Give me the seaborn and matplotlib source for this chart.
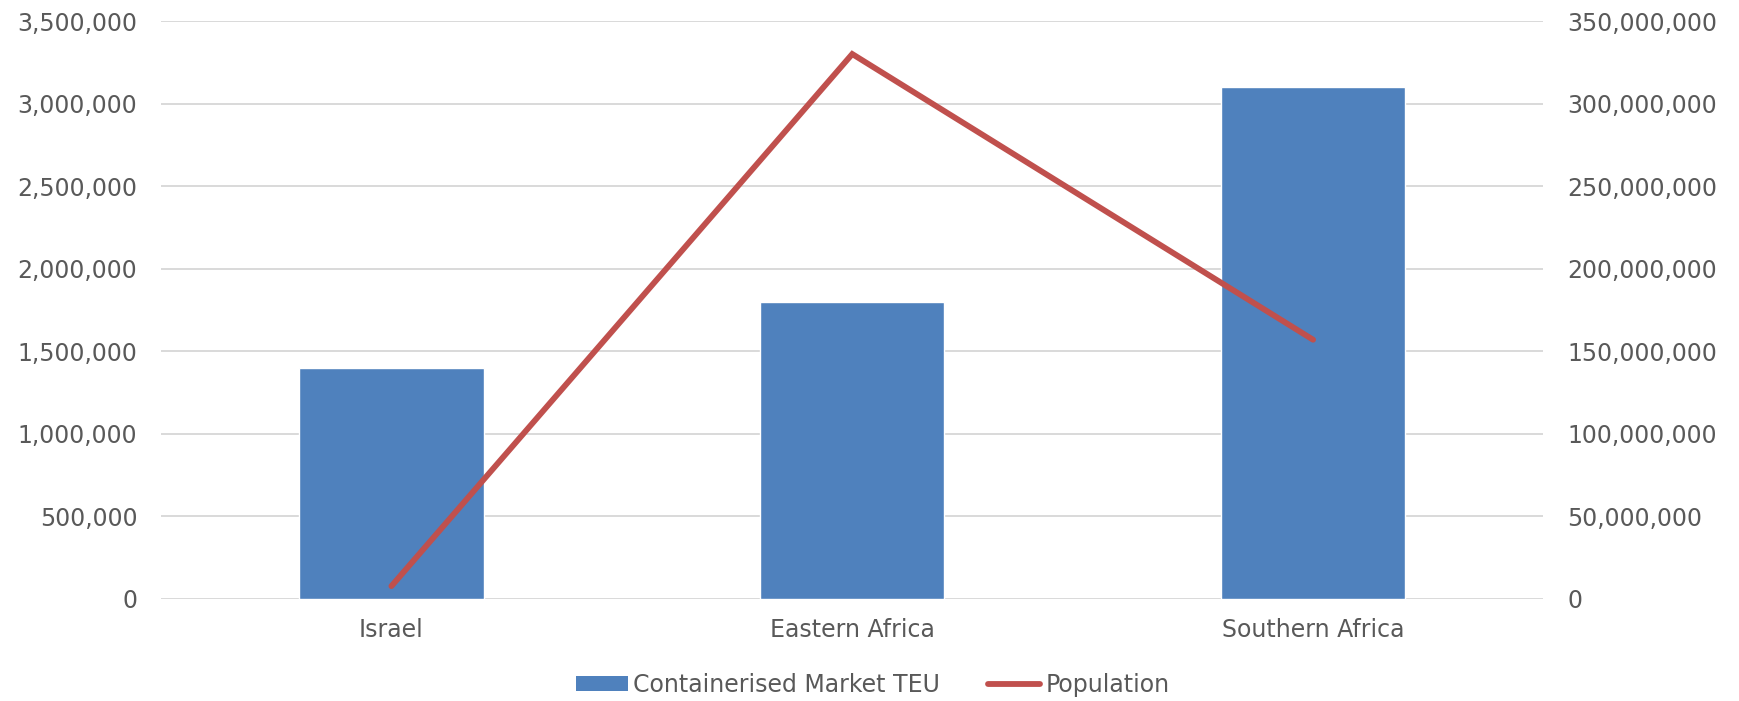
import matplotlib
matplotlib.use("Agg")
import matplotlib.pyplot as plt
import seaborn as sns
import pandas as pd
from matplotlib.ticker import FuncFormatter, MultipleLocator
from matplotlib.patches import Patch
from matplotlib.lines import Line2D

# ---- data ----
regions = ["Israel", "Eastern Africa", "Southern Africa"]
teu = [1_400_000, 1_800_000, 3_100_000]
population = [7_800_000, 330_000_000, 157_000_000]
left_ticks_max = 3_500_000
right_ticks_max = 350_000_000
series_names = ["Containerised Market TEU", "Population"]

df = pd.DataFrame({"Region": regions, "TEU": teu, "Population": population})

sns.set_theme(style="white")
plt.rcParams["font.family"] = ["DejaVu Sans"]

text_color = "#595959"
bar_color = "#4F81BD"
line_color = "#C0504D"
grid_color = "#D9D9D9"
fs = 17
lw = 4.2

W, H = 1740, 701
fig = plt.figure(figsize=(W / 100, H / 100), dpi=100)
ax = fig.add_axes([161 / W, 1 - 599 / H, (1543.5 - 161) / W, (599 - 21) / H])

sns.barplot(data=df, x="Region", y="TEU", color=bar_color, width=0.4,
            saturation=1, ax=ax, zorder=2)
ax2 = ax.twinx()
sns.lineplot(data=df, x="Region", y="Population", sort=False, color=line_color,
             linewidth=lw, ax=ax2, solid_capstyle="round", solid_joinstyle="miter")

fmt = FuncFormatter(lambda v, p: f"{v:,.0f}")
ax.set_ylim(0, left_ticks_max)
ax.yaxis.set_major_locator(MultipleLocator(left_ticks_max / 7))
ax.yaxis.set_major_formatter(fmt)
ax2.set_ylim(0, right_ticks_max)
ax2.yaxis.set_major_locator(MultipleLocator(right_ticks_max / 7))
ax2.yaxis.set_major_formatter(fmt)
ax.set_xlim(-0.5, len(regions) - 0.5)

ax.yaxis.grid(True, color=grid_color, linewidth=1.4)
ax.xaxis.grid(False)
ax2.grid(False)
ax.set_axisbelow(True)

for a in (ax, ax2):
    for s in a.spines.values():
        s.set_visible(False)
    a.set_xlabel("")
    a.set_ylabel("")

ax.tick_params(axis="y", length=0, labelsize=fs, labelcolor=text_color, pad=17)
ax2.tick_params(axis="y", length=0, labelsize=fs, labelcolor=text_color, pad=17)
ax.tick_params(axis="x", length=0, labelsize=fs, labelcolor=text_color, pad=14)

handles = [Patch(facecolor=bar_color, edgecolor="none"),
           Line2D([0], [0], color=line_color, linewidth=lw, solid_capstyle="round")]
fig.legend(handles=handles, labels=series_names, loc="center",
           bbox_to_anchor=(0.5015, 1 - 685 / H), ncol=2, frameon=False,
           fontsize=fs, handlelength=2.2, handleheight=0.6, handletextpad=0.25,
           columnspacing=2.0, labelcolor=text_color)

fig.savefig("out.png", dpi=100)
